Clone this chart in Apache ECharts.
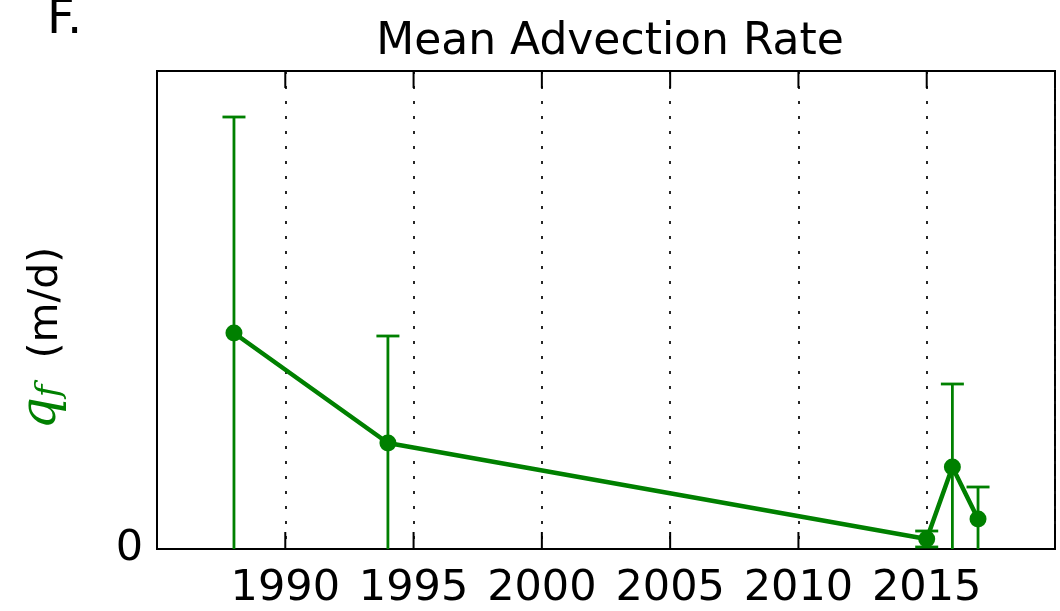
<!DOCTYPE html>
<html>
<head>
<meta charset="utf-8">
<script src="https://cdn.jsdelivr.net/npm/echarts@6/dist/echarts.min.js"></script>
<style>
html,body{margin:0;padding:0;background:#fff;}
#chart{width:1060px;height:611px;}
</style>
</head>
<body>
<div id="chart"></div>
<script>
// Data
var years = [1988, 1994, 2015, 2016, 2017];
var qf = [2.16, 1.06, 0.10, 0.82, 0.30];
var qfErr = [2.16, 1.07, 0.08, 0.83, 0.32];
var xTickValues = [1985, 1990, 1995, 2000, 2005, 2010, 2015, 2020];
var xTickLabels = [1990, 1995, 2000, 2005, 2010, 2015];
var titleText = 'Mean Advection Rate';
var panelLabel = 'F.';

var GREEN = '#008000';
var FONT = 'DejaVu Sans';
var YMAX = 4.78;

var lineData = years.map(function (y, i) { return [y, qf[i]]; });
var errData = years.map(function (y, i) { return [y, qf[i] - qfErr[i], qf[i] + qfErr[i]]; });
var tickData = xTickValues.map(function (v) { return [v, 0]; });

var chart = echarts.init(document.getElementById('chart'), null, {renderer: 'canvas'});
chart.setOption({
  animation: false,
  backgroundColor: '#fff',
  title: {
    text: titleText,
    left: 605, top: 16, textAlign: 'center',
    textStyle: {fontFamily: FONT, fontWeight: 'normal', fontSize: 44, color: '#000'}
  },
  graphic: [
    {type: 'text', left: 47, top: -3,
     style: {text: panelLabel, font: '48px "DejaVu Sans"', fill: '#000'}},
    {type: 'text', x: 42, y: 338, rotation: Math.PI / 2,
     style: {
       text: '{q|q}{f|f}{u|  (m/d)}',
       align: 'center', verticalAlign: 'middle',
       rich: {
         q: {fontFamily: 'DejaVu Serif', fontStyle: 'italic', fontSize: 50, fill: GREEN, verticalAlign: 'bottom'},
         f: {fontFamily: 'DejaVu Serif', fontStyle: 'italic', fontSize: 34, fill: GREEN, padding: [12, 0, 0, 0], verticalAlign: 'bottom'},
         u: {fontFamily: FONT, fontSize: 41, fill: '#000', verticalAlign: 'bottom'}
       }
     }}
  ],
  grid: {left: 157, right: 5, top: 71, bottom: 62, show: true, borderColor: '#000', borderWidth: 2, containLabel: false},
  xAxis: {
    type: 'value', min: 1985, max: 2020, interval: 5,
    axisLine: {show: true, onZero: false, lineStyle: {color: '#000', width: 2}},
    axisTick: {show: false},
    axisLabel: {
      show: true, margin: 18, fontFamily: FONT, fontSize: 43, color: '#000',
      formatter: function (v) { return xTickLabels.indexOf(v) >= 0 ? String(v) : ''; }
    },
    splitLine: {show: true, lineStyle: {color: '#111', width: 1.8, type: [3, 12]}}
  },
  yAxis: {
    type: 'value', min: 0, max: YMAX,
    axisLine: {show: true, lineStyle: {color: '#000', width: 2}},
    axisTick: {show: false},
    splitLine: {show: false},
    axisLabel: {
      show: true, margin: 14, fontFamily: FONT, fontSize: 43, color: '#000',
      customValues: [0],
      formatter: function (v) { return v === 0 ? '0' : ''; }
    }
  },
  series: [{
    // inward ticks on bottom and top frame
    type: 'custom',
    z: 1,
    silent: true,
    data: tickData,
    renderItem: function (params, api) {
      var x = api.value(0);
      var b = api.coord([x, 0]);
      var t = api.coord([x, YMAX]);
      var len = 17;
      var st = {stroke: '#000', lineWidth: 2};
      return {
        type: 'group',
        children: [
          {type: 'line', shape: {x1: b[0], y1: b[1], x2: b[0], y2: b[1] - len}, style: st},
          {type: 'line', shape: {x1: t[0], y1: t[1], x2: t[0], y2: t[1] + len}, style: st}
        ]
      };
    }
  }, {
    type: 'custom',
    clip: true,
    z: 2,
    data: errData,
    renderItem: function (params, api) {
      var x = api.value(0);
      var loV = api.value(1);
      var lo = api.coord([x, Math.max(loV, 0)]);
      var hi = api.coord([x, api.value(2)]);
      var cap = 11.5;
      var st = {stroke: GREEN, lineWidth: 2.8};
      var children = [
        {type: 'line', shape: {x1: lo[0], y1: lo[1], x2: hi[0], y2: hi[1]}, style: st},
        {type: 'line', shape: {x1: hi[0] - cap, y1: hi[1], x2: hi[0] + cap, y2: hi[1]}, style: st}
      ];
      if (loV > 0) {
        children.push({type: 'line', shape: {x1: lo[0] - cap, y1: lo[1], x2: lo[0] + cap, y2: lo[1]}, style: st});
      }
      return {type: 'group', children: children};
    }
  }, {
    type: 'line',
    z: 3,
    data: lineData,
    symbol: 'circle', symbolSize: 17,
    itemStyle: {color: GREEN},
    lineStyle: {color: GREEN, width: 4.5}
  }]
});
</script>
</body>
</html>
